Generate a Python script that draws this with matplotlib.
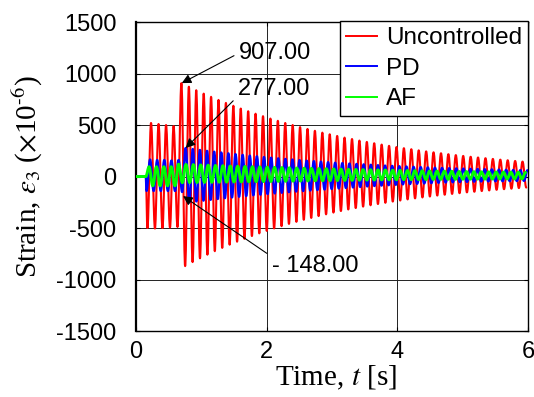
import numpy as np
import matplotlib
matplotlib.use('Agg')
import matplotlib.pyplot as plt
from matplotlib.path import Path
from matplotlib.patches import PathPatch
from matplotlib.lines import Line2D

plt.rcParams['font.family'] = 'Liberation Sans'
plt.rcParams['mathtext.fontset'] = 'stix'
plt.rcParams['axes.unicode_minus'] = False

# ---- data (extremes of each oscillation, strain x1e-6) ----
lead_t = [0.0, 0.15]
lead_v = [0, 0]

# Uncontrolled
red_peak_t = [0.230, 0.345, 0.460, 0.575,
              0.695, 0.809, 0.922, 1.036, 1.149, 1.263, 1.376, 1.490, 1.603, 1.717,
              1.830, 1.944, 2.057, 2.171, 2.284, 2.398, 2.511, 2.625, 2.738, 2.852,
              2.965, 3.079, 3.192, 3.306, 3.419, 3.533, 3.646, 3.760, 3.873, 3.987,
              4.100, 4.214, 4.327, 4.441, 4.554, 4.668, 4.781, 4.895, 5.008, 5.122,
              5.235, 5.349, 5.462, 5.576, 5.689, 5.803, 5.916]
red_peak_v = [520, 510, 500, 490,
              907, 872, 838, 805, 774, 744, 715, 687, 660, 634,
              610, 586, 563, 541, 520, 500, 480, 462, 444, 426,
              410, 394, 378, 364, 349, 336, 323, 310, 298, 286,
              275, 265, 254, 244, 235, 226, 217, 208, 200, 192,
              185, 178, 171, 164, 158, 151, 145]
red_trough_t = [0.175, 0.290, 0.405, 0.520, 0.635,
                0.752, 0.866, 0.979, 1.093, 1.206, 1.320, 1.433, 1.547, 1.660, 1.774,
                1.887, 2.001, 2.114, 2.228, 2.341, 2.455, 2.568, 2.682, 2.795, 2.909,
                3.022, 3.136, 3.249, 3.363, 3.476, 3.590, 3.703, 3.817, 3.930, 4.044,
                4.157, 4.271, 4.384, 4.498, 4.611, 4.725, 4.838, 4.952, 5.065, 5.179,
                5.292, 5.406, 5.519, 5.633, 5.746, 5.860, 5.973]
red_trough_v = [-500, -505, -500, -495, -490,
                -870, -831, -794, -759, -725, -693, -662, -633, -605, -578,
                -552, -528, -504, -482, -460, -440, -420, -402, -384, -367,
                -350, -335, -320, -306, -292, -279, -267, -255, -243, -233,
                -222, -212, -203, -194, -185, -177, -169, -162, -154, -148,
                -141, -135, -129, -123, -118, -112, -107]

# PD
blue_peak_t = [0.215, 0.324, 0.433, 0.542, 0.651,
               0.760, 0.869, 0.978, 1.087, 1.196, 1.305, 1.414, 1.523, 1.632, 1.741,
               1.850, 1.959, 2.068, 2.177, 2.286, 2.395, 2.504, 2.613, 2.722, 2.831,
               2.940, 3.049, 3.158, 3.267, 3.376, 3.485, 3.594, 3.703, 3.812, 3.921,
               4.030, 4.139, 4.248, 4.357, 4.466, 4.575, 4.684, 4.793, 4.902, 5.011,
               5.120, 5.229, 5.338, 5.447, 5.556, 5.665, 5.774, 5.883, 5.992]
blue_peak_v = [165, 160, 160, 155, 160,
               277, 267, 258, 249, 241, 233, 225, 217, 210, 203,
               196, 189, 183, 177, 171, 165, 159, 154, 149, 144,
               139, 134, 130, 126, 122, 118, 114, 110, 106, 103,
               100, 97, 94, 91, 88, 85, 83, 81, 79, 77,
               75, 73, 71, 69, 67, 65, 63, 62, 61]
blue_trough_t = [0.161, 0.270, 0.379, 0.488, 0.597, 0.706,
                 0.815, 0.924, 1.033, 1.142, 1.251, 1.360, 1.469, 1.578, 1.687, 1.796,
                 1.905, 2.014, 2.123, 2.232, 2.341, 2.450, 2.559, 2.668, 2.777, 2.886,
                 2.995, 3.104, 3.213, 3.322, 3.431, 3.540, 3.649, 3.758, 3.867, 3.976,
                 4.085, 4.194, 4.303, 4.412, 4.521, 4.630, 4.739, 4.848, 4.957, 5.066,
                 5.175, 5.284, 5.393, 5.502, 5.611, 5.720, 5.829, 5.938]
blue_trough_v = [-140, -140, -140, -140, -140, -150,
                 -250, -242, -234, -226, -218, -210, -203, -196, -189, -182,
                 -176, -170, -164, -158, -152, -146, -141, -136, -131, -126,
                 -121, -116, -111, -106, -101, -96, -92, -88, -84, -80,
                 -76, -73, -70, -67, -64, -61, -58, -56, -54, -52,
                 -50, -48, -47, -46, -45, -44, -43, -42]

# AF
green_peak_t = [0.200, 0.313, 0.426, 0.539, 0.652, 0.765, 0.878, 0.991, 1.104, 1.217,
                1.330, 1.443, 1.556, 1.669, 1.782, 1.895, 2.008, 2.121, 2.234, 2.347,
                2.460, 2.573, 2.686, 2.799, 2.912, 3.025, 3.138, 3.251, 3.364, 3.477,
                3.590, 3.703, 3.816, 3.929, 4.042, 4.155, 4.268, 4.381, 4.494, 4.607,
                4.720, 4.833, 4.946, 5.059, 5.172, 5.285, 5.398, 5.511, 5.624, 5.737,
                5.850, 5.963]
green_peak_v = [95, 95, 95, 95, 120, 117, 115, 112, 110, 107,
                105, 102, 100, 98, 95, 93, 91, 89, 87, 85,
                83, 81, 79, 77, 76, 74, 72, 70, 69, 67,
                66, 64, 63, 61, 60, 58, 57, 56, 54, 53,
                52, 51, 49, 48, 47, 46, 45, 44, 43, 42,
                41, 40]
green_trough_t = [0.257, 0.370, 0.483, 0.596, 0.709, 0.822, 0.935, 1.048, 1.161, 1.274,
                  1.387, 1.500, 1.613, 1.726, 1.839, 1.952, 2.065, 2.178, 2.291, 2.404,
                  2.517, 2.630, 2.743, 2.856, 2.969, 3.082, 3.195, 3.308, 3.421, 3.534,
                  3.647, 3.760, 3.873, 3.986, 4.099, 4.212, 4.325, 4.438, 4.551, 4.664,
                  4.777, 4.890, 5.003, 5.116, 5.229, 5.342, 5.455, 5.568, 5.681, 5.794,
                  5.907]
green_trough_v = [-90, -90, -90, -90, -60, -59, -58, -57, -56, -55,
                  -54, -53, -52, -51, -50, -49, -48, -47, -46, -45,
                  -44, -43, -42, -41, -40, -39, -38, -37, -36, -35,
                  -34, -33, -32, -31, -30, -30, -29, -29, -28, -28,
                  -27, -27, -26, -26, -25, -25, -24, -24, -23, -23,
                  -22]

y_ticks = [-1500, -1000, -500, 0, 500, 1000, 1500]
x_ticks = [0, 2, 4, 6]


def trace(peak_t, peak_v, trough_t, trough_v):
    t = np.concatenate([lead_t, peak_t, trough_t])
    v = np.concatenate([lead_v, peak_v, trough_v])
    order = np.argsort(t, kind='stable')
    return t[order], v[order]


def smooth_path(t, v):
    # cubic Bezier between successive extremes, flat tangent at each extreme
    verts = [(t[0], v[0])]
    codes = [Path.MOVETO]
    for i in range(len(t) - 1):
        d = (t[i + 1] - t[i]) * 0.36
        verts += [(t[i] + d, v[i]), (t[i + 1] - d, v[i + 1]), (t[i + 1], v[i + 1])]
        codes += [Path.CURVE4] * 3
    return Path(verts, codes)


fig = plt.figure(figsize=(5.34, 3.97), dpi=100)
ax = fig.add_axes([0.2547, 0.1662, 0.7341, 0.7783])

series = [
    ('Uncontrolled', '#ff0000', 1.5, red_peak_t, red_peak_v, red_trough_t, red_trough_v),
    ('PD', '#0000ff', 1.7, blue_peak_t, blue_peak_v, blue_trough_t, blue_trough_v),
    ('AF', '#00ff00', 2.1, green_peak_t, green_peak_v, green_trough_t, green_trough_v),
]
handles = []
for z, (name, col, lw, pt, pv, tt, tv) in enumerate(series):
    t, v = trace(pt, pv, tt, tv)
    ax.add_patch(PathPatch(smooth_path(t, v), fill=False, edgecolor=col, lw=lw,
                           zorder=3 + z, capstyle='round', joinstyle='round'))
    handles.append(Line2D([], [], color=col, lw=1.4, label=name))

ax.set_xlim(0, 6)
ax.set_ylim(-1500, 1500)
ax.set_xticks(x_ticks)
ax.set_yticks(y_ticks)
ax.tick_params(direction='in', length=3, top=True, right=True, labelsize=17)
ax.tick_params(axis='y', pad=14)
ax.tick_params(axis='x', pad=7)
ax.grid(True, color='#222222', lw=0.7, zorder=1)
for s in ax.spines.values():
    s.set_linewidth(1.0)
ax.spines['left'].set_linewidth(1.6)

ax.set_xlabel('Time, $t$ [s]', family='Liberation Serif', fontsize=21)
ax.set_ylabel(r'Strain, $\varepsilon_3$ ($\times$10$^{\text{-}6}$)', family='Liberation Serif', fontsize=21)
ax.xaxis.set_label_coords(0.51, -0.105)
ax.yaxis.set_label_coords(-0.231, 0.5)

arrow = dict(arrowstyle='-|>', color='black', lw=0.8, mutation_scale=14, shrinkA=2, shrinkB=0)
ax.annotate('907.00', xy=(0.70, 907), xytext=(1.58, 1200), fontsize=17, ha='left', va='center',
            arrowprops=dict(arrow, relpos=(0, 0.5)), zorder=6)
ax.annotate('277.00', xy=(0.76, 277), xytext=(1.56, 845), fontsize=17, ha='left', va='center',
            arrowprops=dict(arrow, relpos=(0, 0.2)), zorder=6)
ax.annotate('- 148.00', xy=(0.72, -190), xytext=(2.08, -865), fontsize=17, ha='left', va='center',
            arrowprops=dict(arrow, relpos=(0, 0.9)), zorder=6)

leg = ax.legend(handles=handles, loc='upper right', bbox_to_anchor=(1.0, 1.003), fontsize=17.5,
                frameon=True, fancybox=False, borderaxespad=0, handlelength=1.3,
                handletextpad=0.35, labelspacing=0.35, borderpad=0.25)
leg.get_frame().set_edgecolor('black')
leg.get_frame().set_linewidth(1.0)
leg.get_frame().set_alpha(1)

fig.savefig('out.png', dpi=100)
